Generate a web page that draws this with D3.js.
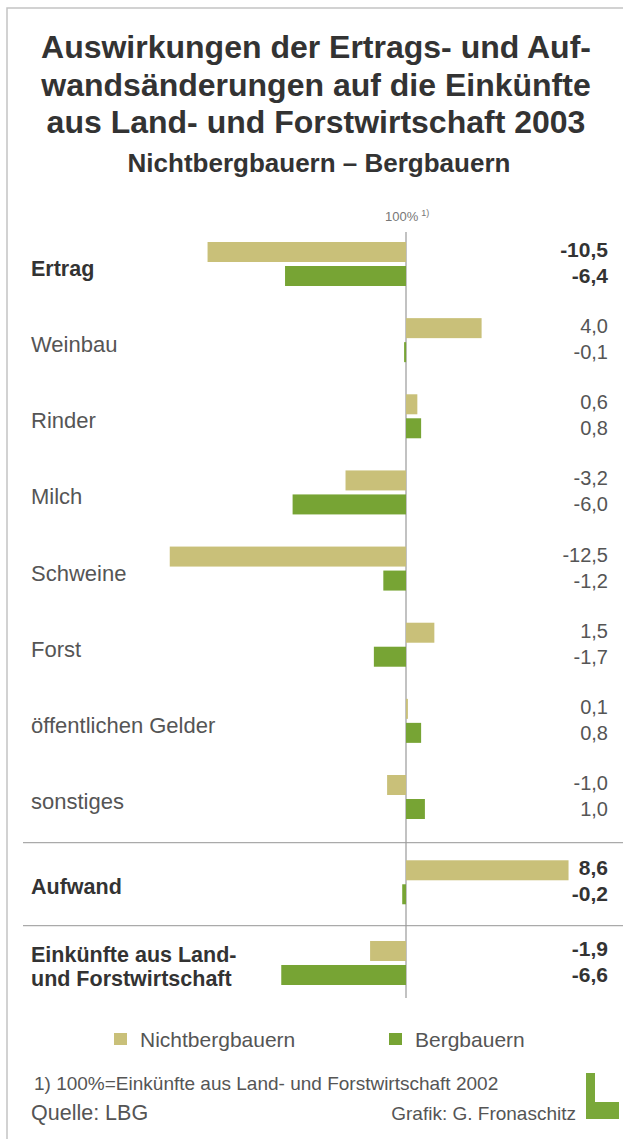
<!DOCTYPE html>
<html>
<head>
<meta charset="utf-8">
<script src="https://cdn.jsdelivr.net/npm/d3@7"></script>
<style>
  body { margin: 0; background: #fff; }
  svg text { font-family: "Liberation Sans", Arial, sans-serif; }
</style>
</head>
<body>
<svg id="chart" width="623" height="1139"></svg>
<script>
// data (percent change, 100% = income 2002)
const categories = ["Ertrag", "Weinbau", "Rinder", "Milch", "Schweine", "Forst",
  "öffentlichen Gelder", "sonstiges", "Aufwand", "Einkünfte aus Land-|und Forstwirtschaft"]
const nichtBergbauern = [-10.5, 4.0, 0.6, -3.2, -12.5, 1.5, 0.1, -1.0, 8.6, -1.9]
const bergBauern = [-6.4, -0.1, 0.8, -6.0, -1.2, -1.7, 0.8, 1.0, -0.2, -6.6]
const boldRows = ["Ertrag", "Aufwand", "Einkünfte aus Land-|und Forstwirtschaft"]
const seriesNames = ["Nichtbergbauern", "Bergbauern"]

const colors = { nicht: "#c9c079", berg: "#77a434", text: "#333", soft: "#555" }

const svg = d3.select("#chart")

// frame
svg.append("path")
  .attr("d", "M7,1139 V8 H623")
  .attr("fill", "none")
  .attr("stroke", "#c4c4c4")
  .attr("stroke-width", 1.5)

// titles
const title = ["Auswirkungen der Ertrags- und Auf-",
  "wandsänderungen auf die Einkünfte",
  "aus Land- und Forstwirtschaft 2003"]
svg.append("g").selectAll("text").data(title).join("text")
  .attr("x", 316)
  .attr("y", (d, i) => 58 + i * 37.5)
  .attr("text-anchor", "middle")
  .attr("font-size", 32)
  .attr("font-weight", "bold")
  .attr("fill", colors.text)
  .text(d => d)

svg.append("text")
  .attr("x", 319).attr("y", 172)
  .attr("text-anchor", "middle")
  .attr("font-size", 26)
  .attr("font-weight", "bold")
  .attr("fill", colors.text)
  .text("Nichtbergbauern – Bergbauern")

// scales
const x = d3.scaleLinear().domain([-13, 9]).range([406 - 13 * 18.9, 406 + 9 * 18.9])
// groups after the separators sit a bit further apart
const slot = i => i + (i >= 8 ? 0.12 : 0) + (i >= 9 ? 0.06 : 0)
const y = d3.scaleLinear().domain([0, 7]).range([264, 797])
const barH = 20, gap = 2

svg.append("text")
  .attr("x", x(0) - 21).attr("y", 221)
  .attr("font-size", 13)
  .attr("fill", "#777")
  .text("100%")
  .append("tspan")
  .attr("dy", -5).attr("dx", 3)
  .attr("font-size", 9)
  .text("1)")

// separators
const sepAfter = [7, 8]
svg.append("g").selectAll("line").data(sepAfter).join("line")
  .attr("x1", 23).attr("x2", 623)
  .attr("y1", d => (y(slot(d)) + y(slot(d + 1))) / 2 + 3)
  .attr("y2", d => (y(slot(d)) + y(slot(d + 1))) / 2 + 3)
  .attr("stroke", "#aaa")
  .attr("stroke-width", 1.2)

// zero line
svg.append("line")
  .attr("x1", x(0)).attr("x2", x(0))
  .attr("y1", 232).attr("y2", 998)
  .attr("stroke", "#999")
  .attr("stroke-width", 1.2)

const rows = categories.map((c, i) => ({ cat: c, i, n: nichtBergbauern[i], b: bergBauern[i] }))

const g = svg.append("g")

g.selectAll("rect.nicht").data(rows).join("rect")
  .attr("class", "nicht")
  .attr("x", d => x(Math.min(0, d.n)))
  .attr("width", d => Math.abs(x(d.n) - x(0)))
  .attr("y", d => y(slot(d.i)) - gap - barH)
  .attr("height", barH)
  .attr("fill", colors.nicht)

g.selectAll("rect.berg").data(rows).join("rect")
  .attr("class", "berg")
  .attr("x", d => x(Math.min(0, d.b)))
  .attr("width", d => Math.max(2, Math.abs(x(d.b) - x(0))))
  .attr("y", d => y(slot(d.i)) + gap)
  .attr("height", barH)
  .attr("fill", colors.berg)

const fmt = v => v.toFixed(1).replace(".", ",")

// category labels
g.selectAll("text.cat").data(rows).join("text")
  .attr("class", "cat")
  .attr("x", 31)
  .attr("y", d => y(slot(d.i)) + (d.cat.includes("|") ? -1 : 12))
  .attr("font-size", d => boldRows.includes(d.cat) ? 21.5 : 22)
  .attr("font-weight", d => boldRows.includes(d.cat) ? "bold" : "normal")
  .attr("fill", d => boldRows.includes(d.cat) ? colors.text : colors.soft)
  .each(function(d) {
    const parts = d.cat.split("|")
    d3.select(this).selectAll("tspan").data(parts).join("tspan")
      .attr("x", 31)
      .attr("dy", (p, k) => k ? 24 : 0)
      .text(p => p)
  })

// value labels
const vals = rows.flatMap(d => [
  { v: d.n, yy: y(slot(d.i)) - gap - barH / 2 + 5, bold: boldRows.includes(d.cat) },
  { v: d.b, yy: y(slot(d.i)) + gap + barH / 2 + 7, bold: boldRows.includes(d.cat) }
])
g.selectAll("text.val").data(vals).join("text")
  .attr("class", "val")
  .attr("x", 608)
  .attr("y", d => d.yy)
  .attr("text-anchor", "end")
  .attr("font-size", d => d.bold ? 21 : 20)
  .attr("font-weight", d => d.bold ? "bold" : "normal")
  .attr("fill", d => d.bold ? colors.text : colors.soft)
  .text(d => fmt(d.v))

// legend
const legend = svg.append("g").selectAll("g").data(seriesNames).join("g")
  .attr("transform", (d, i) => `translate(${[114, 389][i]},1033)`)
legend.append("rect")
  .attr("width", 13).attr("height", 12)
  .attr("fill", (d, i) => i ? colors.berg : colors.nicht)
legend.append("text")
  .attr("x", 26).attr("y", 14)
  .attr("font-size", 21)
  .attr("fill", colors.soft)
  .text(d => d)

// footnote and source
svg.append("text")
  .attr("x", 34).attr("y", 1090)
  .attr("font-size", 19)
  .attr("fill", colors.soft)
  .text("1) 100%=Einkünfte aus Land- und Forstwirtschaft 2002")

svg.append("text")
  .attr("x", 31).attr("y", 1120)
  .attr("font-size", 21.5)
  .attr("fill", colors.soft)
  .text("Quelle: LBG")

svg.append("text")
  .attr("x", 576).attr("y", 1120)
  .attr("text-anchor", "end")
  .attr("font-size", 19)
  .attr("fill", colors.soft)
  .text("Grafik: G. Fronaschitz")

// logo "L"
svg.append("path")
  .attr("d", "M586,1073 H595 V1102 H619 V1119 H586 Z")
  .attr("fill", "#7aa83a")
</script>
</body>
</html>
